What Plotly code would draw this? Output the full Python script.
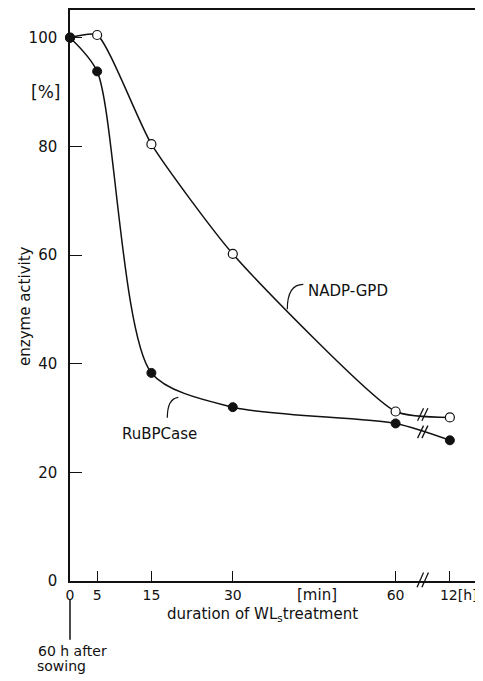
import plotly.graph_objects as go

# ---- data ----
x_pos = [0, 5, 15, 30, 60, 70]          # 70 = plotting slot of the 12 h point (after axis break)
x_tick_labels = ["0", "5", "15", "30", "60", "12[h]"]
nadp_gpd = [100, 100.5, 80.4, 60.2, 31.2, 30.1]
rubpcase = [100, 93.8, 38.3, 32.0, 29.0, 25.9]
y_ticks = [0, 20, 40, 60, 80, 100]

FONT = "DejaVu Sans"
INK = "#111111"

# page has an 8px body margin: figure is shifted by 8px right/down
W, H = 475, 673
L, R, T, B = 62, 6, 0, 100
XR = [0, 75]
YR = [0, 105.1]

# last label ("12[h]") is left-padded so that "12" sits on its tick
tick_text = x_tick_labels[:-1] + ["&nbsp;" * 4 + x_tick_labels[-1]]

fig = go.Figure()
fig.add_trace(go.Scatter(
    x=x_pos, y=nadp_gpd, mode="lines+markers", name="NADP-GPD",
    line=dict(color=INK, width=1.5, shape="spline", smoothing=0.55),
    marker=dict(symbol="circle", size=9, color="white", line=dict(color=INK, width=1.2)),
    showlegend=False, cliponaxis=False))
fig.add_trace(go.Scatter(
    x=x_pos, y=rubpcase, mode="lines+markers", name="RuBPCase",
    line=dict(color=INK, width=1.5, shape="spline", smoothing=0.75),
    marker=dict(symbol="circle", size=9, color=INK, line=dict(color=INK, width=1)),
    showlegend=False, cliponaxis=False))

shapes = []
def add_break(xc, yc, ref_x="x", ref_y="y"):
    dx = 0.55
    dy = 1.15
    for off in (-0.4, 0.4):
        shapes.append(dict(type="line", xref=ref_x, yref=ref_y,
                           x0=xc + off - dx, y0=yc - dy, x1=xc + off + dx, y1=yc + dy,
                           line=dict(color=INK, width=1.3)))

for series in (nadp_gpd, rubpcase):
    xb = (x_pos[-2] + x_pos[-1]) / 2
    yb = (series[-2] + series[-1]) / 2
    add_break(xb, yb)

# axis break on x axis
xb_paper = ((x_pos[-2] + x_pos[-1]) / 2 - XR[0]) / (XR[1] - XR[0])
for off in (-0.006, 0.006):
    shapes.append(dict(type="line", xref="paper", yref="paper",
                       x0=xb_paper + off - 0.008, y0=-0.011, x1=xb_paper + off + 0.008, y1=0.015,
                       line=dict(color=INK, width=1.3)))

# vertical marker below 0
shapes.append(dict(type="line", xref="paper", yref="paper", x0=0, x1=0, y0=-0.033, y1=-0.103,
                   line=dict(color=INK, width=1.5)))

# callout hooks
shapes.append(dict(type="path", xref="paper", yref="paper",
                   path="M 0.5733 0.5195 Q 0.5339 0.5195 0.5339 0.4759",
                   line=dict(color=INK, width=1.2)))
shapes.append(dict(type="path", xref="paper", yref="paper",
                   path="M 0.2661 0.3217 Q 0.2391 0.3194 0.2391 0.2859",
                   line=dict(color=INK, width=1.2)))

ann = []
def A(text, x, y, size=15, xref="paper", yref="paper", angle=0, xanchor="center"):
    ann.append(dict(text=text, x=x, y=y, xref=xref, yref=yref, showarrow=False,
                    textangle=angle, xanchor=xanchor, yanchor="middle",
                    font=dict(family=FONT, size=size, color=INK)))

A("NADP-GPD", 0.683, 0.508)
A("RuBPCase", 0.221, 0.258)
A("[%]", -0.0614, 0.857, size=17)
A("enzyme activity", -0.1106, 0.4817, angle=-90)
A("[min]", 0.607, -0.025, size=15)
A("duration of WL<sub>s</sub>treatment", 0.474, -0.059)
A("60 h after", 0.005, -0.122, size=14)
A("sowing", -0.022, -0.149, size=14)

fig.update_layout(
    width=W, height=H,
    margin=dict(l=L, r=R, t=T, b=B, pad=0),
    paper_bgcolor="white", plot_bgcolor="white",
    font=dict(family=FONT, size=15, color=INK),
    shapes=shapes, annotations=ann,
    xaxis=dict(range=XR, tickvals=x_pos, ticktext=tick_text,
               ticks="inside", ticklen=10, tickwidth=1.3, tickcolor=INK,
               showline=True, linecolor=INK, linewidth=1.5, mirror=True,
               showgrid=False, zeroline=False, ticklabelstandoff=0,
               tickfont=dict(family=FONT, size=14, color=INK)),
    yaxis=dict(range=YR, tickvals=y_ticks,
               ticks="inside", ticklen=12, tickwidth=1.3, tickcolor=INK,
               showline=True, linecolor=INK, linewidth=1.5, mirror=True,
               showgrid=False, zeroline=False, ticklabelstandoff=8,
               tickfont=dict(family=FONT, size=15, color=INK)),
)

fig.write_html("out.html")
